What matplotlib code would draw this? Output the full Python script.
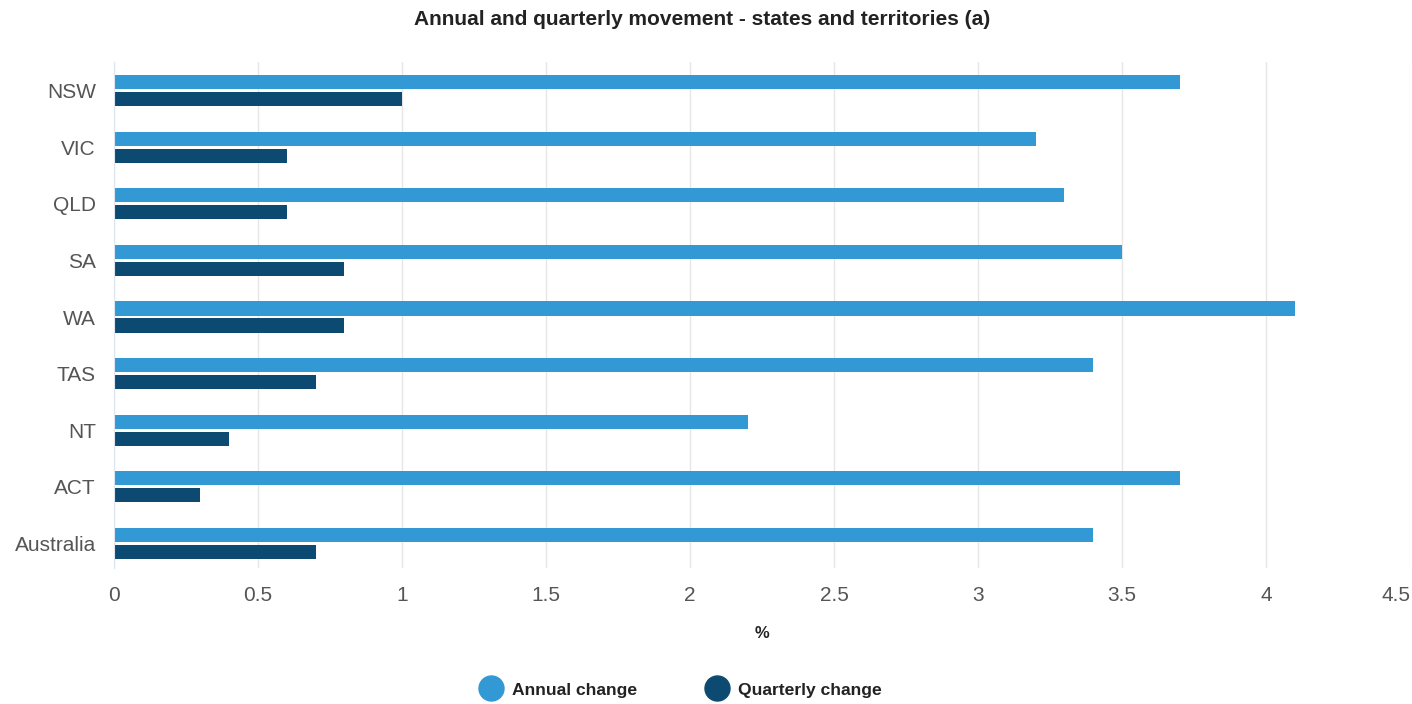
import numpy as np
import matplotlib
matplotlib.use("Agg")
import matplotlib.pyplot as plt
from matplotlib.lines import Line2D

regions = ["NSW", "VIC", "QLD", "SA", "WA", "TAS", "NT", "ACT", "Australia"]
annual = [3.7, 3.2, 3.3, 3.5, 4.1, 3.4, 2.2, 3.7, 3.4]
quarterly = [1.0, 0.6, 0.6, 0.8, 0.8, 0.7, 0.4, 0.3, 0.7]
xticks = [0, 0.5, 1, 1.5, 2, 2.5, 3, 3.5, 4, 4.5]

c_annual = "#3399d4"
c_quarter = "#0d4a72"

plt.rcParams["font.family"] = ["Liberation Sans", "DejaVu Sans"]

fig = plt.figure(figsize=(14.12, 7.04), dpi=100)
ax = fig.add_axes([114 / 1412, 0.193, 1296 / 1412, 0.719])

y = np.arange(len(regions))
h = 0.25
ax.barh(y - 0.15, annual, height=h, color=c_annual, zorder=3)
ax.barh(y + 0.15, quarterly, height=h, color=c_quarter, zorder=3)

ax.set_xlim(0, 4.5)
ax.set_ylim(8.44, -0.51)
ax.set_yticks(y)
ax.set_yticklabels(regions)
ax.set_xticks(xticks)
ax.set_xticklabels([f"{t:g}" for t in xticks])
ax.get_xticklabels()[-1].set_ha("right")
ax.tick_params(axis="both", length=0, labelsize=15, labelcolor="#555555")
ax.tick_params(axis="x", pad=13)
ax.tick_params(axis="y", pad=13)
ax.grid(axis="x", color="#e6e6e6", linewidth=1, zorder=0)
for s in ["top", "right", "bottom"]:
    ax.spines[s].set_visible(False)
ax.spines["left"].set_color("#dde6f0")
ax.spines["left"].set_zorder(4)

ax.set_xlabel("%", fontsize=12, fontweight="bold", color="#222222", labelpad=15)
fig.text(0.497, 0.972, "Annual and quarterly movement - states and territories (a)",
         ha="center", va="center", fontsize=15, fontweight="bold", color="#222222")

handles = [
    Line2D([], [], marker="o", linestyle="", markersize=18, color=c_annual),
    Line2D([], [], marker="o", linestyle="", markersize=18, color=c_quarter),
]
fig.legend(handles, ["Annual change", "Quarterly change"], loc="center",
           bbox_to_anchor=(0.48, 0.02), ncol=2, frameon=False,
           prop={"size": 12.6, "weight": "bold"}, labelcolor="#222222",
           handletextpad=0.2, columnspacing=3.6)

fig.savefig("out.png", dpi=100)
